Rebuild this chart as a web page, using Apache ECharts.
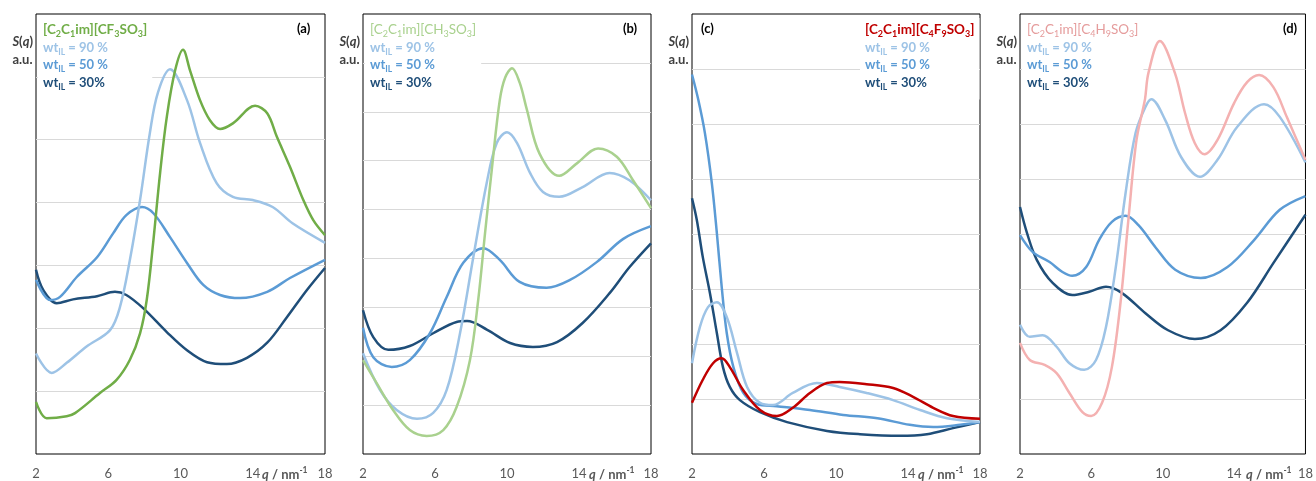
<!DOCTYPE html>
<html><head><meta charset="utf-8">
<script src="https://cdn.jsdelivr.net/npm/echarts@6/dist/echarts.min.js"></script>
<style>html,body{margin:0;padding:0;background:#fff}#c{width:1316px;height:481px}</style>
</head><body><div id="c"></div>
<script>
// x ticks
const X_TICKS = [2, 6, 10, 14, 18];
// Panel (a) [C2C1im][CF3SO3]
const A_IL = [[2,0.83],[2.59,0.57],[3.7,0.6],[4.16,0.65],[5.54,0.97],[6.46,1.18],[7.2,1.5],[7.76,1.92],[8.13,2.45],[8.5,3.4],[8.87,4.47],[9.24,5.36],[9.7,6.1],[10.14,6.43],[10.53,6.1],[11.08,5.63],[11.63,5.31],[12.19,5.17],[12.9,5.26],[14.13,5.54],[14.8,5.42],[15.33,5.05],[16.06,4.57],[16.8,4.04],[17.35,3.72],[18,3.48]];
const A_90 = [[2,1.6],[2.87,1.29],[3.7,1.45],[4.8,1.71],[6.1,1.97],[6.65,2.34],[7.2,3.09],[7.76,4.04],[8.3,5.1],[8.75,5.75],[9.42,6.12],[10.36,5.63],[11.08,4.95],[12.0,4.31],[12.9,4.09],[14.0,4.04],[15.1,3.93],[16.2,3.67],[18,3.36]];
const A_50 = [[2,2.77],[2.78,2.45],[3.33,2.5],[4.27,2.82],[5.38,3.13],[6.27,3.51],[7.0,3.8],[7.87,3.93],[8.5,3.83],[9.42,3.45],[10.36,3.04],[11.26,2.69],[12.19,2.53],[13.3,2.48],[14.8,2.58],[16.06,2.8],[18,3.09]];
const A_30 = [[2,2.93],[2.4,2.61],[3.15,2.4],[4.05,2.46],[5.38,2.51],[6.37,2.58],[7.0,2.53],[7.93,2.32],[9.24,1.94],[10.36,1.65],[11.47,1.46],[12.57,1.43],[13.68,1.53],[14.8,1.77],[15.9,2.18],[17.0,2.61],[18,2.96]];
// Panel (b) [C2C1im][CH3SO3]
const B_IL = [[2,1.92],[2.76,1.45],[3.67,0.9],[4.6,0.49],[5.54,0.37],[6.46,0.49],[7.2,0.96],[7.94,1.92],[8.4,3.15],[8.78,4.52],[9.17,5.87],[9.6,7.24],[9.9,7.7],[10.28,7.89],[10.7,7.6],[11.1,7.05],[11.8,6.15],[12.9,5.69],[13.9,5.95],[15.06,6.25],[16.1,6.08],[17.0,5.6],[18,5.03]];
const B_90 = [[2,2.06],[2.94,1.31],[3.87,0.9],[5.0,0.72],[5.9,0.84],[6.65,1.31],[7.39,2.47],[8.13,4.03],[8.87,5.54],[9.43,6.36],[10.0,6.58],[10.56,6.36],[11.28,5.75],[12.0,5.36],[12.9,5.26],[14.2,5.46],[15.7,5.75],[16.8,5.6],[18,5.19]];
const B_50 = [[2,2.58],[2.57,1.98],[3.6,1.78],[4.6,1.92],[5.72,2.47],[6.65,3.21],[7.57,3.91],[8.68,4.21],[9.6,3.97],[10.7,3.52],[12.2,3.4],[13.5,3.56],[15.0,3.93],[16.46,4.4],[18,4.66]];
const B_30 = [[2,2.94],[2.57,2.39],[3.4,2.13],[4.6,2.21],[5.9,2.47],[7.2,2.7],[7.78,2.72],[8.9,2.54],[10.17,2.27],[11.44,2.19],[12.78,2.29],[14.2,2.68],[15.7,3.29],[16.8,3.82],[18,4.31]];
// Panel (c) [C2C1im][C4F9SO3]
const C_IL = [[2,0.93],[2.6,1.35],[3.17,1.65],[3.65,1.74],[4.1,1.58],[4.85,1.16],[5.78,0.8],[6.72,0.69],[7.6,0.84],[8.55,1.11],[9.5,1.29],[10.2,1.31],[11.7,1.27],[13.17,1.2],[14.28,1.04],[15.4,0.84],[16.5,0.69],[18,0.64]];
const C_90 = [[2,1.65],[2.44,2.31],[2.89,2.67],[3.38,2.76],[3.93,2.49],[4.5,1.84],[5.06,1.22],[5.78,0.93],[6.5,0.89],[7.6,1.11],[8.94,1.29],[10.2,1.22],[11.7,1.11],[13.17,0.98],[14.67,0.8],[16.17,0.65],[18,0.58]];
const C_50 = [[2,6.9],[2.35,6.44],[2.72,5.83],[3.1,4.93],[3.38,4.02],[3.65,3.04],[3.93,2.2],[4.3,1.58],[4.85,1.11],[5.6,0.91],[6.7,0.87],[8.55,0.8],[10.4,0.71],[12.3,0.65],[14.1,0.53],[15.4,0.49],[16.9,0.53],[18,0.58]];
const C_30 = [[2,4.65],[2.27,4.25],[2.6,3.58],[3.0,2.92],[3.38,2.2],[3.72,1.58],[4.1,1.22],[4.66,0.98],[5.78,0.76],[7.28,0.58],[9.5,0.42],[11.33,0.36],[13.55,0.33],[15.05,0.36],[16.5,0.47],[18,0.58]];
// Panel (d) [C2C1im][C4H9SO3]
const D_IL = [[2,2.02],[2.55,1.71],[3.38,1.62],[4.05,1.47],[4.77,1.11],[5.5,0.76],[5.99,0.69],[6.6,0.93],[7.15,1.58],[7.65,2.8],[8.09,4.31],[8.53,5.71],[9.0,6.44],[9.2,6.93],[9.84,7.51],[10.68,6.93],[11.25,6.2],[11.8,5.65],[12.35,5.45],[13.07,5.71],[14.0,6.38],[14.73,6.76],[15.4,6.89],[16.2,6.67],[16.95,6.13],[18,5.35]];
const D_90 = [[2,2.35],[2.55,2.13],[3.27,2.16],[4.05,1.95],[4.77,1.65],[5.6,1.53],[6.26,1.71],[6.82,2.31],[7.37,3.4],[7.92,4.75],[8.48,5.84],[9.03,6.31],[9.36,6.45],[10.14,6.07],[11.03,5.4],[12.08,5.04],[13.07,5.35],[14.18,5.95],[15.68,6.36],[16.56,6.13],[18,5.3]];
const D_50 = [[2,3.98],[2.72,3.67],[3.66,3.49],[4.38,3.31],[4.93,3.24],[5.71,3.4],[6.43,3.89],[7.15,4.22],[7.92,4.33],[8.64,4.16],[9.59,3.76],[10.7,3.35],[12.13,3.2],[13.63,3.4],[15.12,3.89],[16.56,4.44],[18,4.69]];
const D_30 = [[2,4.49],[2.39,4.02],[2.94,3.53],[3.83,3.11],[4.93,2.89],[5.88,2.95],[6.82,3.04],[7.7,2.93],[9.03,2.56],[10.3,2.25],[11.8,2.09],[13.24,2.25],[14.73,2.75],[16.2,3.47],[18,4.35]];

// legend texts
const NAME_A = ['[C','2','C','1','im][CF','3','SO','3',']'];
const NAME_B = ['[C','2','C','1','im][CH','3','SO','3',']'];
const NAME_C = ['[C','2','C','1','im][C','4','F','9','SO','3',']'];
const NAME_D = ['[C','2','C','1','im][C','4','H','9','SO','3',']'];
const WT_LABELS = [' = 90 %', ' = 50 %', ' = 30%'];
const TAGS = ['(a)', '(b)', '(c)', '(d)'];

const W = 1316;
const FONT = 'Lato, "Open Sans", sans-serif';
const C90 = '#9dc3e6', C50 = '#5b9bd5', C30 = '#1f4e79';

const panels = [
  {left:36, width:289, yMax:7, il:A_IL, s90:A_90, s50:A_50, s30:A_30, ilColor:'#70ad47', txtColor:'#70ad47', nameBold:true, name:NAME_A, legX:43, tagX:297},
  {left:363, width:288, yMax:9, il:B_IL, s90:B_90, s50:B_50, s30:B_30, ilColor:'#a9d18e', txtColor:'#a9d18e', nameBold:false, name:NAME_B, legX:370, tagX:623},
  {left:692, width:288, yMax:8, il:C_IL, s90:C_90, s50:C_50, s30:C_30, ilColor:'#c00000', txtColor:'#c00000', nameBold:true, name:NAME_C, legX:865, tagX:701},
  {left:1020, width:289, yMax:8, il:D_IL, s90:D_90, s50:D_50, s30:D_30, ilColor:'#f4b1b1', txtColor:'#e59c9c', nameBold:false, name:NAME_D, legX:1027, tagX:1283}
];

const grids = [], xAxes = [], yAxes = [], series = [], titles = [];
panels.forEach((p, i) => {
  grids.push({left:p.left, top:14, width:p.width, height:440, show:true, borderColor:'#000', borderWidth:1, backgroundColor:'transparent'});
  xAxes.push({type:'value', gridIndex:i, min:X_TICKS[0], max:X_TICKS[X_TICKS.length-1], interval:4,
    axisLine:{show:false}, axisTick:{show:false}, splitLine:{show:false},
    axisLabel:{color:'#595959', fontSize:13, fontFamily:FONT, margin:13}});
  yAxes.push({type:'value', gridIndex:i, min:0, max:p.yMax, interval:1,
    axisLine:{show:false}, axisTick:{show:false}, axisLabel:{show:false},
    splitLine:{show:true, showMinLine:false, showMaxLine:false, lineStyle:{color:'#d9d9d9', width:1}}});
  const mk = (data, color) => ({type:'line', xAxisIndex:i, yAxisIndex:i, data, smooth:0.35, showSymbol:false, symbol:'none',
    lineStyle:{color, width:2.5}, itemStyle:{color}, z:2, silent:true});
  series.push(mk(p.s30, C30), mk(p.s50, C50), mk(p.s90, C90), mk(p.il, p.ilColor));

  const nameStr = p.name.map((t, k) => `{${k % 2 ? 's' : 't'}|${t}}`).join('');
  const wtLines = WT_LABELS.map((lab, k) => `{w${k}|wt}{ws${k}|IL}{w${k}|${lab}}`);
  titles.push({
    left: p.legX - 5, top: 16, padding:[5,5,8,5], backgroundColor:'#fff',
    text: [nameStr].concat(wtLines).join('\n'),
    textStyle:{fontFamily:FONT, rich:{
      t:{color:p.txtColor, fontSize:13.5, fontWeight:p.nameBold?'bold':'normal', fontFamily:FONT, lineHeight:18},
      s:{color:p.txtColor, fontSize:9, fontWeight:p.nameBold?'bold':'normal', fontFamily:FONT, verticalAlign:'bottom', lineHeight:11},
      w0:{color:C90, fontSize:13, fontWeight:'bold', fontFamily:FONT, lineHeight:17.5},
      ws0:{color:C90, fontSize:8.5, fontWeight:'bold', fontFamily:FONT, verticalAlign:'bottom', lineHeight:11},
      w1:{color:C50, fontSize:13, fontWeight:'bold', fontFamily:FONT, lineHeight:17.5},
      ws1:{color:C50, fontSize:8.5, fontWeight:'bold', fontFamily:FONT, verticalAlign:'bottom', lineHeight:11},
      w2:{color:C30, fontSize:13, fontWeight:'bold', fontFamily:FONT, lineHeight:17.5},
      ws2:{color:C30, fontSize:8.5, fontWeight:'bold', fontFamily:FONT, verticalAlign:'bottom', lineHeight:11}
    }}
  });
  titles.push({left:p.tagX, top:22, padding:0, text:TAGS[i], textStyle:{fontFamily:FONT, fontSize:13, fontWeight:'bold', color:'#000'}});
  titles.push({right: W - (p.left - 3), top:33, padding:0,
    text:'{si|S}{sb|(}{si|q}{sb|)}\n{sb|a.u.}',
    textStyle:{align:'right', rich:{
      si:{fontFamily:FONT, fontSize:13, fontWeight:'bold', fontStyle:'italic', color:'#404040', lineHeight:18},
      sb:{fontFamily:FONT, fontSize:13, fontWeight:'bold', color:'#404040', lineHeight:18}
    }}});
  titles.push({left:p.left + 226, top:466, padding:0,
    text:'{qi|q}{n| / nm}{sp|-1}',
    textStyle:{rich:{
      qi:{fontFamily:FONT, fontSize:13, fontWeight:'bold', fontStyle:'italic', color:'#595959', lineHeight:18},
      n:{fontFamily:FONT, fontSize:13, fontWeight:'bold', color:'#595959', lineHeight:18},
      sp:{fontFamily:FONT, fontSize:8.5, fontWeight:'bold', color:'#595959', verticalAlign:'top', lineHeight:11}
    }}});
});

const chart = echarts.init(document.getElementById('c'), null, {renderer:'canvas', width:1316, height:481});
chart.setOption({
  animation:false, backgroundColor:'#fff',
  title: titles, grid: grids, xAxis: xAxes, yAxis: yAxes, series
});
</script></body></html>
